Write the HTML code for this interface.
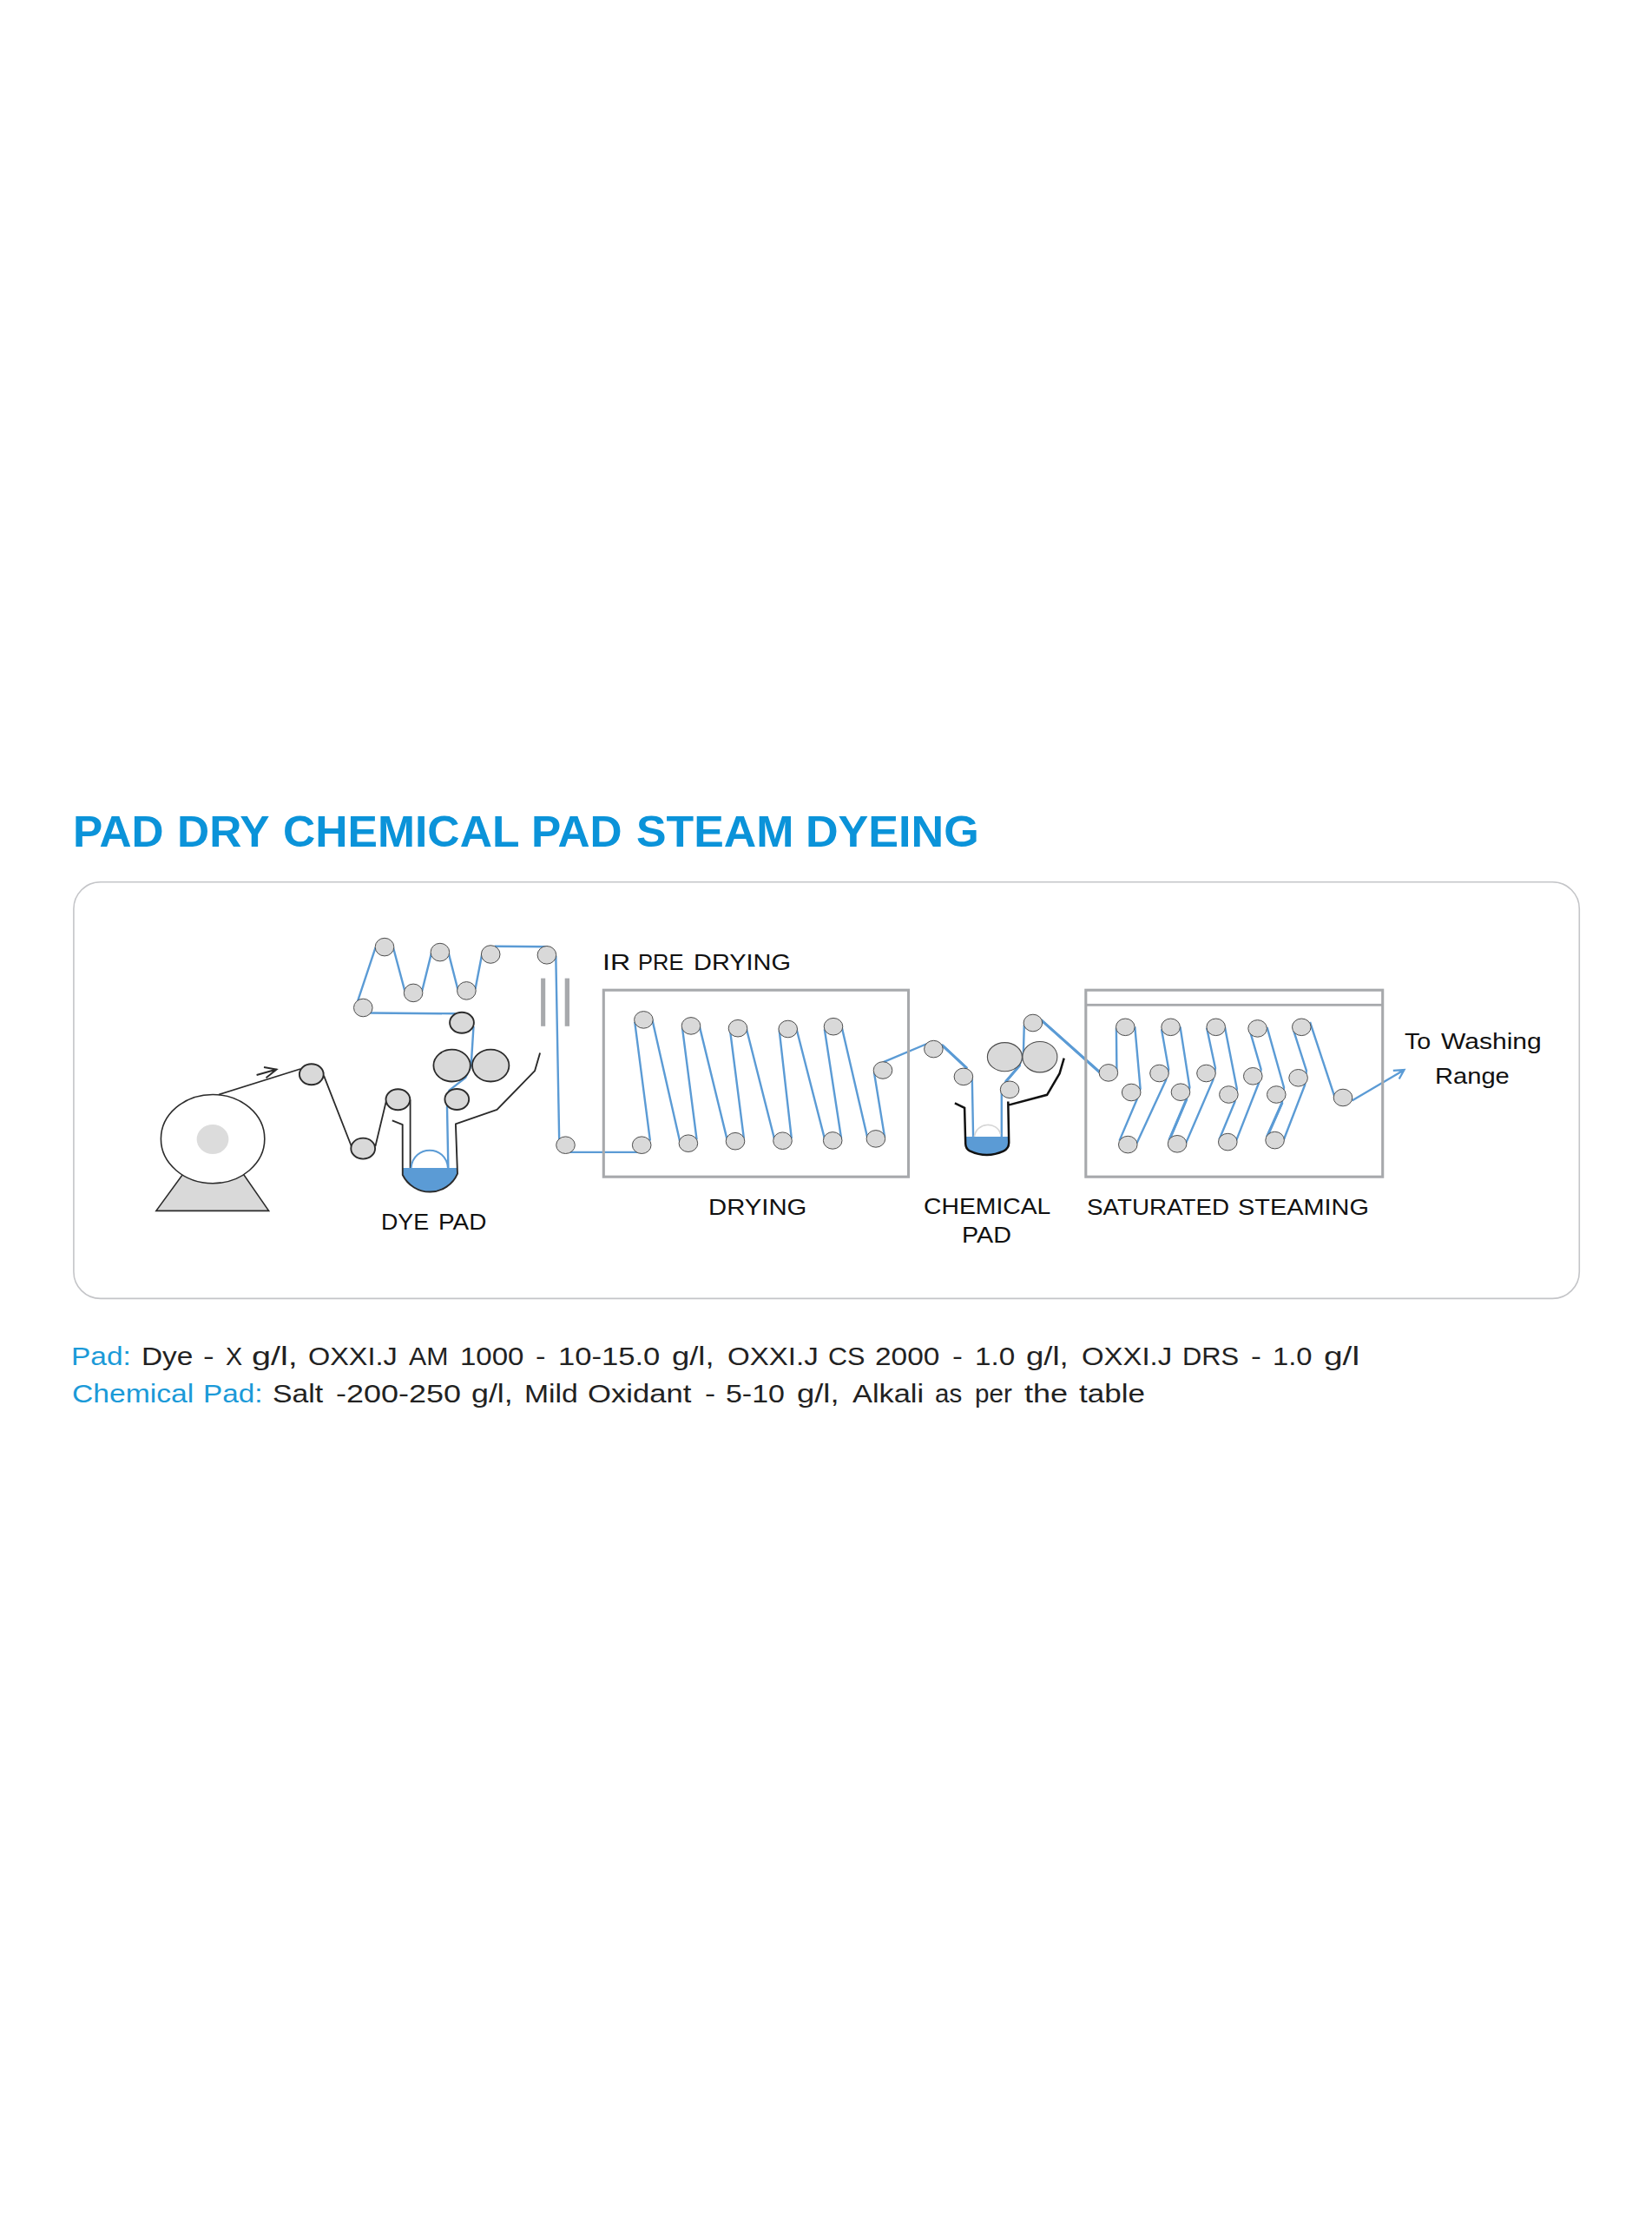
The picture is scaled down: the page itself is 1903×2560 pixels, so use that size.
<!DOCTYPE html>
<html><head><meta charset="utf-8"><title>Pad Dry Chemical Pad Steam Dyeing</title>
<style>
html,body{margin:0;padding:0;background:#fff;}
body{width:1903px;height:2560px;position:relative;overflow:hidden;font-family:"Liberation Sans",sans-serif;}
.t{position:absolute;white-space:nowrap;line-height:1;transform-origin:0 0;display:block;}
</style></head><body>
<svg width="1903" height="2560" viewBox="0 0 1903 2560" style="position:absolute;left:0;top:0">
<rect x="84.9" y="1015.7" width="1734.4" height="479.7" rx="31" ry="31" fill="#fff" stroke="#c4c5c8" stroke-width="1.6"/>
<polygon points="210.8,1352 280.3,1352 309.6,1394.4 179.9,1394.4" fill="#d9d9d9" stroke="#2b2b2b" stroke-width="1.6" stroke-linejoin="miter"/>
<ellipse cx="245.1" cy="1311.6" rx="59.7" ry="51.1" fill="#fff" stroke="#2b2b2b" stroke-width="1.6"/>
<ellipse cx="245" cy="1312" rx="18.4" ry="17" fill="#dcdcdc"/>
<path d="M252,1260.5 L346,1231 M373,1238.7 L404.8,1320 M432.4,1320 L445.2,1266.6 M472.6,1266.6 L472.6,1345" fill="none" stroke="#2b2b2b" stroke-width="1.8"/>
<path d="M295.6,1238 L318.6,1231.5 M304,1229 L318.6,1231.5 L306.5,1241.2" fill="none" stroke="#2b2b2b" stroke-width="1.9"/>
<path d="M463.9,1344.9 L526.9,1344.9 L527.0,1351.6 A34.8,34.8 0 0 1 463.8,1353 Z" fill="#5b9bd5"/>
<path d="M451.8,1290.3 L463.7,1295.2 L463.8,1353 A34.8,34.8 0 0 0 527.0,1351.6 L524.9,1294.4 L572.5,1277.9 L616.1,1233.1 L622.1,1212.5" fill="none" stroke="#2b2b2b" stroke-width="1.9" stroke-linejoin="round"/>
<path d="M473.6,1344.8 C476,1318 514,1318 515.9,1344.8" fill="none" stroke="#5b9bd5" stroke-width="2"/>
<path d="M1085.6,1203.8 L1113.2,1229.6 M1199.6,1174.8 L1267,1235 M1158.9,1245.3 L1174.3,1227.2 M1366.7,1266.2 L1347.2,1312.1 M1476.7,1270.4 L1460,1308" fill="none" stroke="#5b9bd5" stroke-width="3.1" stroke-linecap="round"/>
<path d="M516.4,1346.4 L515.0,1275.0 L517.5,1255.6 L536.2,1241.1 L542.7,1227.1 L545.5,1181.9 M524.5,1167.3 L425.6,1166.5 M412.2,1152.3 L432.6,1091.2 M453.0,1091.2 L466.4,1141.4 M486.1,1141.5 L497.1,1097.1 M516.9,1098.4 L527.6,1140.3 M547.5,1139.1 L555.1,1099.6 M569.7,1089.8 L631.0,1090.3 M640.3,1100.8 L644.2,1313.7 M656.0,1326.9 L735.8,1326.9 M748.9,1313.7 L731.2,1176.9 M751.3,1174.1 L783.3,1315.1 M802.6,1312.4 L786.0,1183.8 M805.6,1181.1 L837.6,1312.4 M856.9,1311.0 L841.2,1188.0 M859.6,1183.8 L891.9,1311.0 M911.8,1311.0 L897.7,1186.6 M917.6,1185.3 L949.8,1310.9 M969.1,1311.0 L949.8,1185.2 M969.6,1182.4 L999.1,1309.6 M1019.1,1309.6 L1006.9,1234.9 M1017.6,1223.2 L1067.8,1202.0 M1085.1,1203.4 L1113.8,1230.1 M1119.8,1241.9 L1121.1,1310.5 M1153.8,1310.5 L1153.8,1258.0 L1158.9,1245.3 L1174.3,1227.2 L1178.9,1212.6 L1179.8,1180.2 M1199.1,1174.3 L1267.6,1235.5 M1286.4,1233.0 L1285.9,1183.8 M1307.3,1182.4 L1313.6,1253.7 L1309.6,1266.2 L1289.5,1313.6 M1309.5,1316.4 L1343.0,1243.9 L1346.2,1231.4 L1338.0,1185.2 M1359.5,1182.4 L1370.4,1252.3 L1366.7,1266.2 L1346.6,1313.6 M1366.1,1316.4 L1397.3,1243.9 L1400.0,1230.0 L1390.1,1183.8 M1411.0,1183.0 L1424.8,1253.7 L1422.4,1269.0 L1404.5,1312.2 M1424.0,1313.6 L1450.2,1246.7 L1452.6,1231.4 L1440.1,1188.1 M1459.6,1183.1 L1479.0,1252.3 L1476.7,1270.4 L1459.4,1309.5 M1478.9,1312.2 L1503.1,1249.5 L1504.9,1232.8 L1490.1,1186.7 M1509.0,1177.0 L1537.1,1262.1" fill="none" stroke="#5b9bd5" stroke-width="2.4" stroke-linejoin="round"/>
<path d="M1557.4,1267.6 L1617.3,1232.2 M1604.8,1232.8 L1617.5,1232.1 L1611.7,1242.5" fill="none" stroke="#5b9bd5" stroke-width="2.3" stroke-linejoin="miter"/>
<rect x="623.1" y="1126.6" width="5.1" height="55.2" fill="#a7a9ac"/>
<rect x="650.7" y="1126.6" width="5.3" height="55.2" fill="#a7a9ac"/>
<rect x="695.3" y="1140.2" width="351.2" height="215" fill="none" stroke="#a7a9ac" stroke-width="3.1"/>
<rect x="1250.8" y="1140.2" width="341.9" height="215" fill="none" stroke="#a7a9ac" stroke-width="3.1"/>
<rect x="1250.8" y="1155.9" width="341.9" height="2.8" fill="#a7a9ac"/>
<ellipse cx="443" cy="1090.6" rx="10.8" ry="10.3" fill="#d9d9d9" stroke="#4d4d4d" stroke-width="1.0"/>
<ellipse cx="476.1" cy="1143.3999999999999" rx="10.8" ry="10.3" fill="#d9d9d9" stroke="#4d4d4d" stroke-width="1.0"/>
<ellipse cx="506.9" cy="1096.6" rx="10.8" ry="10.3" fill="#d9d9d9" stroke="#4d4d4d" stroke-width="1.0"/>
<ellipse cx="537.4" cy="1140.8999999999999" rx="10.8" ry="10.3" fill="#d9d9d9" stroke="#4d4d4d" stroke-width="1.0"/>
<ellipse cx="565.2" cy="1099.0" rx="10.8" ry="10.3" fill="#d9d9d9" stroke="#4d4d4d" stroke-width="1.0"/>
<ellipse cx="629.9" cy="1099.8" rx="10.8" ry="10.3" fill="#d9d9d9" stroke="#4d4d4d" stroke-width="1.0"/>
<ellipse cx="418.3" cy="1160.5" rx="10.8" ry="10.3" fill="#d9d9d9" stroke="#4d4d4d" stroke-width="1.0"/>
<ellipse cx="651.5" cy="1318.7" rx="10.8" ry="9.8" fill="#d9d9d9" stroke="#4d4d4d" stroke-width="1.0"/>
<ellipse cx="741.4" cy="1174.4" rx="10.8" ry="9.8" fill="#d9d9d9" stroke="#4d4d4d" stroke-width="1.0"/>
<ellipse cx="796" cy="1181.4" rx="10.8" ry="9.8" fill="#d9d9d9" stroke="#4d4d4d" stroke-width="1.0"/>
<ellipse cx="850" cy="1184.2" rx="10.8" ry="9.8" fill="#d9d9d9" stroke="#4d4d4d" stroke-width="1.0"/>
<ellipse cx="907.7" cy="1185.0" rx="10.8" ry="9.8" fill="#d9d9d9" stroke="#4d4d4d" stroke-width="1.0"/>
<ellipse cx="960" cy="1182.2" rx="10.8" ry="9.8" fill="#d9d9d9" stroke="#4d4d4d" stroke-width="1.0"/>
<ellipse cx="739.2" cy="1318.7" rx="10.8" ry="9.8" fill="#d9d9d9" stroke="#4d4d4d" stroke-width="1.0"/>
<ellipse cx="792.9" cy="1316.7" rx="10.8" ry="9.8" fill="#d9d9d9" stroke="#4d4d4d" stroke-width="1.0"/>
<ellipse cx="847" cy="1314.2" rx="10.8" ry="9.8" fill="#d9d9d9" stroke="#4d4d4d" stroke-width="1.0"/>
<ellipse cx="901.5" cy="1313.7" rx="10.8" ry="9.8" fill="#d9d9d9" stroke="#4d4d4d" stroke-width="1.0"/>
<ellipse cx="959.2" cy="1313.4" rx="10.8" ry="9.8" fill="#d9d9d9" stroke="#4d4d4d" stroke-width="1.0"/>
<ellipse cx="1008.9" cy="1311.4" rx="10.8" ry="9.8" fill="#d9d9d9" stroke="#4d4d4d" stroke-width="1.0"/>
<ellipse cx="1017" cy="1232.5" rx="10.8" ry="9.8" fill="#d9d9d9" stroke="#4d4d4d" stroke-width="1.0"/>
<ellipse cx="1075.4" cy="1208.1000000000001" rx="10.8" ry="9.8" fill="#d9d9d9" stroke="#4d4d4d" stroke-width="1.0"/>
<ellipse cx="1109.9" cy="1239.9" rx="10.8" ry="9.8" fill="#d9d9d9" stroke="#4d4d4d" stroke-width="1.0"/>
<ellipse cx="1189.9" cy="1178.0" rx="10.8" ry="9.8" fill="#d9d9d9" stroke="#4d4d4d" stroke-width="1.0"/>
<ellipse cx="1163.1" cy="1254.8000000000002" rx="10.8" ry="9.8" fill="#d9d9d9" stroke="#4d4d4d" stroke-width="1.0"/>
<ellipse cx="1276.9" cy="1235.4" rx="10.8" ry="9.8" fill="#d9d9d9" stroke="#4d4d4d" stroke-width="1.0"/>
<ellipse cx="1296.3" cy="1182.8000000000002" rx="10.8" ry="9.8" fill="#d9d9d9" stroke="#4d4d4d" stroke-width="1.0"/>
<ellipse cx="1348.6" cy="1182.8000000000002" rx="10.8" ry="9.8" fill="#d9d9d9" stroke="#4d4d4d" stroke-width="1.0"/>
<ellipse cx="1400.7" cy="1182.8000000000002" rx="10.8" ry="9.8" fill="#d9d9d9" stroke="#4d4d4d" stroke-width="1.0"/>
<ellipse cx="1448.6" cy="1184.4" rx="10.8" ry="9.8" fill="#d9d9d9" stroke="#4d4d4d" stroke-width="1.0"/>
<ellipse cx="1499.3" cy="1182.8000000000002" rx="10.8" ry="9.8" fill="#d9d9d9" stroke="#4d4d4d" stroke-width="1.0"/>
<ellipse cx="1335.5" cy="1236.0" rx="10.8" ry="9.8" fill="#d9d9d9" stroke="#4d4d4d" stroke-width="1.0"/>
<ellipse cx="1389.5" cy="1236.0" rx="10.8" ry="9.8" fill="#d9d9d9" stroke="#4d4d4d" stroke-width="1.0"/>
<ellipse cx="1443.3" cy="1239.3000000000002" rx="10.8" ry="9.8" fill="#d9d9d9" stroke="#4d4d4d" stroke-width="1.0"/>
<ellipse cx="1495.6" cy="1241.3000000000002" rx="10.8" ry="9.8" fill="#d9d9d9" stroke="#4d4d4d" stroke-width="1.0"/>
<ellipse cx="1303.2" cy="1258.0" rx="10.8" ry="9.8" fill="#d9d9d9" stroke="#4d4d4d" stroke-width="1.0"/>
<ellipse cx="1360" cy="1257.7" rx="10.8" ry="9.8" fill="#d9d9d9" stroke="#4d4d4d" stroke-width="1.0"/>
<ellipse cx="1415.4" cy="1260.5" rx="10.8" ry="9.8" fill="#d9d9d9" stroke="#4d4d4d" stroke-width="1.0"/>
<ellipse cx="1470.3" cy="1260.5" rx="10.8" ry="9.8" fill="#d9d9d9" stroke="#4d4d4d" stroke-width="1.0"/>
<ellipse cx="1299.3" cy="1318.1000000000001" rx="10.8" ry="9.8" fill="#d9d9d9" stroke="#4d4d4d" stroke-width="1.0"/>
<ellipse cx="1356.1" cy="1317.3000000000002" rx="10.8" ry="9.8" fill="#d9d9d9" stroke="#4d4d4d" stroke-width="1.0"/>
<ellipse cx="1414.3" cy="1315.1000000000001" rx="10.8" ry="9.8" fill="#d9d9d9" stroke="#4d4d4d" stroke-width="1.0"/>
<ellipse cx="1468.6" cy="1313.1000000000001" rx="10.8" ry="9.8" fill="#d9d9d9" stroke="#4d4d4d" stroke-width="1.0"/>
<ellipse cx="1547" cy="1264.0" rx="10.8" ry="9.8" fill="#d9d9d9" stroke="#4d4d4d" stroke-width="1.0"/>
<ellipse cx="358.8" cy="1237.2" rx="13.9" ry="12.0" fill="#d9d9d9" stroke="#2b2b2b" stroke-width="1.9"/>
<ellipse cx="418.2" cy="1322.6" rx="13.9" ry="12.0" fill="#d9d9d9" stroke="#2b2b2b" stroke-width="1.9"/>
<ellipse cx="458.4" cy="1266.2" rx="13.9" ry="12.0" fill="#d9d9d9" stroke="#2b2b2b" stroke-width="1.9"/>
<ellipse cx="526.3" cy="1266" rx="13.9" ry="12.0" fill="#d9d9d9" stroke="#2b2b2b" stroke-width="1.9"/>
<ellipse cx="532.0" cy="1177.7" rx="13.9" ry="12.0" fill="#d9d9d9" stroke="#2b2b2b" stroke-width="1.9"/>
<ellipse cx="520.6" cy="1227.1" rx="21.2" ry="18.4" fill="#d9d9d9" stroke="#2b2b2b" stroke-width="1.8"/>
<ellipse cx="565.2" cy="1227.1" rx="21.2" ry="18.4" fill="#d9d9d9" stroke="#2b2b2b" stroke-width="1.8"/>
<ellipse cx="1157.4" cy="1217.2" rx="20" ry="16.6" fill="#d9d9d9" stroke="#4d4d4d" stroke-width="1.1"/>
<ellipse cx="1197.9" cy="1217.2" rx="20" ry="17.7" fill="#d9d9d9" stroke="#4d4d4d" stroke-width="1.1"/>
<path d="M1112.2,1309 L1161.9,1309 L1162.2,1316 Q1162,1322.8 1156,1325.6 Q1136.5,1334.5 1117,1325.3 Q1112.4,1323 1112.2,1317 Z" fill="#5b9bd5"/>
<path d="M1122.4,1308.9 C1125,1291.5 1149,1291.5 1152.5,1306" fill="none" stroke="#d6d6d6" stroke-width="1.7"/>
<path d="M1099.9,1270.4 L1111.1,1275.8 L1112.2,1317 Q1112.4,1323 1117,1325.3 Q1136.5,1334.5 1156,1325.6 Q1162,1322.8 1162.2,1316 L1161.3,1268.6 M1161.6,1272.6 L1206.1,1260.8 L1220.6,1236.2 L1225.7,1218.6" fill="none" stroke="#111" stroke-width="2.5"/>
</svg>
<span class="t" style="left:81.8px;top:1547.3px;font-size:30px;color:#1b9ad8;transform:scaleX(1.1154);">Pad:</span>
<span class="t" style="left:162.7px;top:1547.3px;font-size:30px;color:#222;transform:scaleX(1.1132);">Dye</span>
<span class="t" style="left:234.1px;top:1547.3px;font-size:30px;color:#222;transform:scaleX(1.2625);">-</span>
<span class="t" style="left:259.6px;top:1547.3px;font-size:30px;color:#222;transform:scaleX(0.9550);">X</span>
<span class="t" style="left:290.3px;top:1547.3px;font-size:30px;color:#222;transform:scaleX(1.3194);">g/l,</span>
<span class="t" style="left:354.6px;top:1547.3px;font-size:30px;color:#222;transform:scaleX(1.0812);">OXXI.J</span>
<span class="t" style="left:471.2px;top:1547.3px;font-size:30px;color:#222;transform:scaleX(1.0091);">AM</span>
<span class="t" style="left:529.7px;top:1547.3px;font-size:30px;color:#222;transform:scaleX(1.1006);">1000</span>
<span class="t" style="left:617.1px;top:1547.3px;font-size:30px;color:#222;transform:scaleX(1.1500);">-</span>
<span class="t" style="left:643.2px;top:1547.3px;font-size:30px;color:#222;transform:scaleX(1.1528);">10-15.0</span>
<span class="t" style="left:774.4px;top:1547.3px;font-size:30px;color:#222;transform:scaleX(1.2130);">g/l,</span>
<span class="t" style="left:837.8px;top:1547.3px;font-size:30px;color:#222;transform:scaleX(1.1019);">OXXI.J</span>
<span class="t" style="left:953.5px;top:1547.3px;font-size:30px;color:#222;transform:scaleX(1.0185);">CS</span>
<span class="t" style="left:1008.3px;top:1547.3px;font-size:30px;color:#222;transform:scaleX(1.1129);">2000</span>
<span class="t" style="left:1096.7px;top:1547.3px;font-size:30px;color:#222;transform:scaleX(1.1875);">-</span>
<span class="t" style="left:1122.7px;top:1547.3px;font-size:30px;color:#222;transform:scaleX(1.1071);">1.0</span>
<span class="t" style="left:1182.2px;top:1547.3px;font-size:30px;color:#222;transform:scaleX(1.2158);">g/l,</span>
<span class="t" style="left:1245.7px;top:1547.3px;font-size:30px;color:#222;transform:scaleX(1.0954);">OXXI.J</span>
<span class="t" style="left:1361.6px;top:1547.3px;font-size:30px;color:#222;transform:scaleX(1.0260);">DRS</span>
<span class="t" style="left:1440.5px;top:1547.3px;font-size:30px;color:#222;transform:scaleX(1.1875);">-</span>
<span class="t" style="left:1465.7px;top:1547.3px;font-size:30px;color:#222;transform:scaleX(1.0918);">1.0</span>
<span class="t" style="left:1524.5px;top:1547.3px;font-size:30px;color:#222;transform:scaleX(1.2957);">g/l</span>
<span class="t" style="left:82.9px;top:1589.6px;font-size:30px;color:#1b9ad8;transform:scaleX(1.1220);">Chemical</span>
<span class="t" style="left:234.4px;top:1589.6px;font-size:30px;color:#1b9ad8;transform:scaleX(1.1084);">Pad:</span>
<span class="t" style="left:314.2px;top:1589.6px;font-size:30px;color:#222;transform:scaleX(1.1254);">Salt</span>
<span class="t" style="left:386.6px;top:1589.6px;font-size:30px;color:#222;transform:scaleX(1.1984);">-200-250</span>
<span class="t" style="left:542.6px;top:1589.6px;font-size:30px;color:#222;transform:scaleX(1.1940);">g/l,</span>
<span class="t" style="left:604.3px;top:1589.6px;font-size:30px;color:#222;transform:scaleX(1.1243);">Mild</span>
<span class="t" style="left:676.9px;top:1589.6px;font-size:30px;color:#222;transform:scaleX(1.1538);">Oxidant</span>
<span class="t" style="left:812.0px;top:1589.6px;font-size:30px;color:#222;transform:scaleX(1.2125);">-</span>
<span class="t" style="left:835.9px;top:1589.6px;font-size:30px;color:#222;transform:scaleX(1.1309);">5-10</span>
<span class="t" style="left:917.7px;top:1589.6px;font-size:30px;color:#222;transform:scaleX(1.2130);">g/l,</span>
<span class="t" style="left:981.5px;top:1589.6px;font-size:30px;color:#222;transform:scaleX(1.1453);">Alkali</span>
<span class="t" style="left:1076.6px;top:1589.6px;font-size:30px;color:#222;transform:scaleX(0.9837);">as</span>
<span class="t" style="left:1122.5px;top:1589.6px;font-size:30px;color:#222;transform:scaleX(0.9866);">per</span>
<span class="t" style="left:1180.1px;top:1589.6px;font-size:30px;color:#222;transform:scaleX(1.2019);">the</span>
<span class="t" style="left:1243.2px;top:1589.6px;font-size:30px;color:#222;transform:scaleX(1.1683);">table</span>
<span class="t" style="left:694.2px;top:1095.2px;font-size:26.3px;color:#111;transform:scaleX(1.2229);">IR</span>
<span class="t" style="left:735.3px;top:1095.2px;font-size:26.3px;color:#111;transform:scaleX(0.9684);">PRE</span>
<span class="t" style="left:799.3px;top:1095.2px;font-size:26.3px;color:#111;transform:scaleX(1.1002);">DRYING</span>
<span class="t" style="left:439.2px;top:1393.6px;font-size:26.3px;color:#111;transform:scaleX(1.0188);">DYE</span>
<span class="t" style="left:504.9px;top:1393.6px;font-size:26.3px;color:#111;transform:scaleX(1.0625);">PAD</span>
<span class="t" style="left:815.5px;top:1376.7px;font-size:26.3px;color:#111;transform:scaleX(1.1134);">DRYING</span>
<span class="t" style="left:1063.7px;top:1376.4px;font-size:26.3px;color:#111;transform:scaleX(1.0770);">CHEMICAL</span>
<span class="t" style="left:1108.3px;top:1408.7px;font-size:26.3px;color:#111;transform:scaleX(1.0931);">PAD</span>
<span class="t" style="left:1252.4px;top:1376.5px;font-size:26.3px;color:#111;transform:scaleX(1.0557);">SATURATED</span>
<span class="t" style="left:1426.3px;top:1376.5px;font-size:26.3px;color:#111;transform:scaleX(1.0987);">STEAMING</span>
<span class="t" style="left:1618.2px;top:1185.7px;font-size:26.3px;color:#111;transform:scaleX(1.0903);">To</span>
<span class="t" style="left:1660.4px;top:1185.7px;font-size:26.3px;color:#111;transform:scaleX(1.1423);">Washing</span>
<span class="t" style="left:1653.4px;top:1225.8px;font-size:26.3px;color:#111;transform:scaleX(1.1073);">Range</span>
<span class="t" style="left:83.7px;top:932.7px;font-size:50px;color:#0b93d9;transform:scaleX(1.0261);font-weight:bold;">PAD</span>
<span class="t" style="left:203.7px;top:932.7px;font-size:50px;color:#0b93d9;transform:scaleX(1.0283);font-weight:bold;">DRY</span>
<span class="t" style="left:326.0px;top:932.7px;font-size:50px;color:#0b93d9;transform:scaleX(1.0326);font-weight:bold;">CHEMICAL</span>
<span class="t" style="left:612.2px;top:932.7px;font-size:50px;color:#0b93d9;transform:scaleX(1.0261);font-weight:bold;">PAD</span>
<span class="t" style="left:732.7px;top:932.7px;font-size:50px;color:#0b93d9;transform:scaleX(1.0365);font-weight:bold;">STEAM</span>
<span class="t" style="left:928.2px;top:932.7px;font-size:50px;color:#0b93d9;transform:scaleX(1.0419);font-weight:bold;">DYEING</span>
</body></html>
